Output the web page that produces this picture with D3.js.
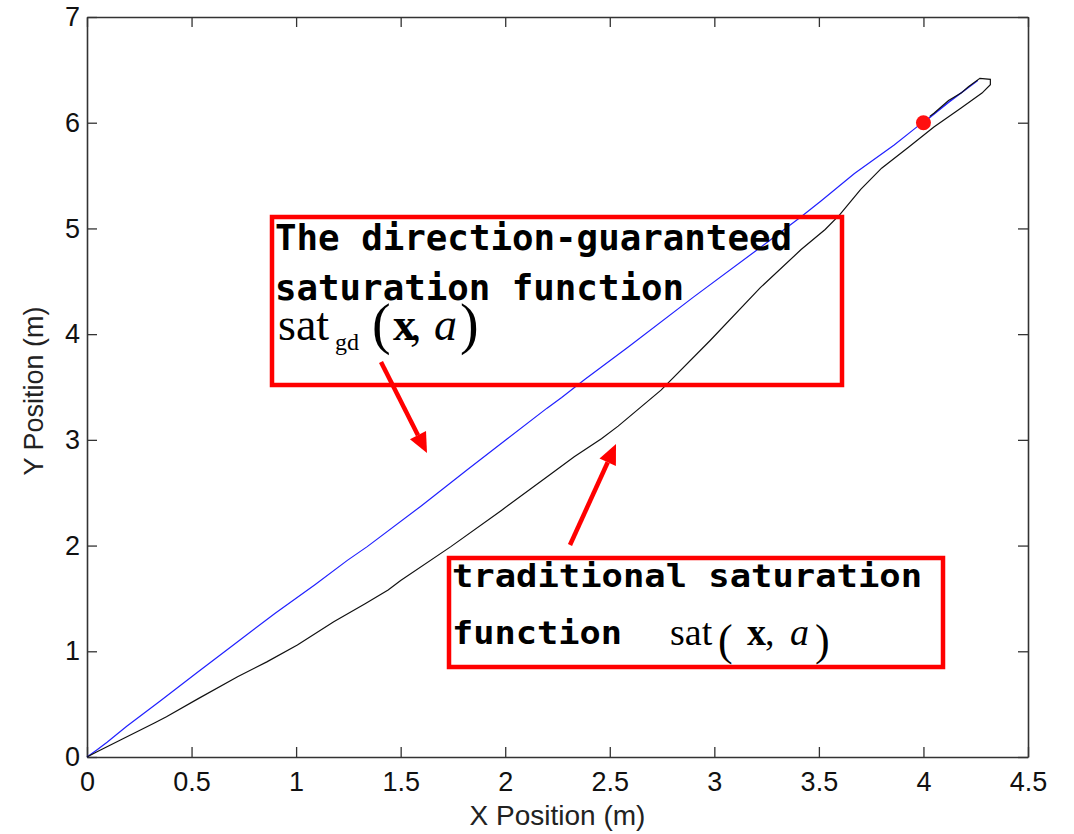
<!DOCTYPE html>
<html>
<head>
<meta charset="utf-8">
<script src="https://cdn.jsdelivr.net/npm/d3@7"></script>
<style>
  html, body { margin: 0; padding: 0; background: #fff; }
  svg { display: block; }
</style>
</head>
<body>
<svg id="chart" width="1074" height="834"></svg>
<script>
// Trajectory with the direction-guaranteed saturation function (blue)
const gdX = [0, 0.05, 0.096, 0.19, 0.35, 0.527, 0.70, 0.90, 1.09, 1.245, 1.34, 1.595, 1.82, 2.01, 2.20, 2.27, 2.38, 2.59, 2.90, 3.22, 3.415, 3.51, 3.67, 3.86, 3.975, 4.0, 4.12, 4.26, 4.13, 4.01];
const gdY = [0, 0.07, 0.14, 0.29, 0.53, 0.80, 1.06, 1.36, 1.63, 1.86, 1.99, 2.37, 2.72, 3.01, 3.30, 3.40, 3.57, 3.88, 4.35, 4.82, 5.11, 5.26, 5.52, 5.79, 5.97, 6.0, 6.19, 6.40, 6.21, 6.02];

// Trajectory with the traditional saturation function (black)
const tradX = [0, 0.048, 0.16, 0.32, 0.38, 0.53, 0.72, 0.86, 1.006, 1.18, 1.33, 1.44, 1.50, 1.74, 1.98, 2.22, 2.33, 2.46, 2.54, 2.745, 2.98, 3.22, 3.415, 3.53, 3.60, 3.70, 3.80, 3.93, 4.05, 4.18, 4.28, 4.32, 4.32, 4.27, 4.215, 4.18, 4.12, 4.05, 4.03];
const tradY = [0, 0.05, 0.16, 0.32, 0.38, 0.55, 0.76, 0.90, 1.06, 1.28, 1.45, 1.58, 1.67, 1.99, 2.33, 2.68, 2.84, 3.01, 3.13, 3.47, 3.94, 4.44, 4.80, 4.99, 5.13, 5.37, 5.57, 5.77, 5.96, 6.14, 6.28, 6.36, 6.41, 6.42, 6.34, 6.28, 6.21, 6.09, 6.06];

// Goal position
const target = [4, 6];

// Axis ticks and labels
const xTicks = [0, 0.5, 1, 1.5, 2, 2.5, 3, 3.5, 4, 4.5];
const xTickLabels = ["0", "0.5", "1", "1.5", "2", "2.5", "3", "3.5", "4", "4.5"];
const yTicks = [0, 1, 2, 3, 4, 5, 6, 7];
const yTickLabels = ["0", "1", "2", "3", "4", "5", "6", "7"];
const xTitle = "X Position (m)";
const yTitle = "Y Position (m)";

const svg = d3.select("#chart");
const box = { left: 87, right: 1028, top: 17, bottom: 757 };

const x = d3.scaleLinear().domain([0, 4.5]).range([box.left, box.right]);
const y = d3.scaleLinear().domain([0, 7]).range([box.bottom, box.top]);

const axisColor = "#333";
const tickFont = "'Liberation Sans', Arial, sans-serif";

function styleAxis(g) {
  g.selectAll("path.domain").attr("stroke", axisColor).attr("stroke-width", 1.6);
  g.selectAll(".tick line").attr("stroke", axisColor).attr("stroke-width", 1.3);
  g.selectAll(".tick text").attr("fill", "#111").style("font-family", tickFont).style("font-size", "27px");
}

// bottom axis with labels, ticks pointing inward
svg.append("g")
  .attr("transform", `translate(0,${box.bottom})`)
  .call(d3.axisBottom(x).tickValues(xTicks).tickFormat((d, i) => xTickLabels[i])
    .tickSizeInner(-10).tickSizeOuter(0).tickPadding(15))
  .call(styleAxis)
  .call(g => g.selectAll(".tick text").attr("y", 15).attr("dy", "0.716em"));

// top axis (ticks only)
svg.append("g")
  .attr("transform", `translate(0,${box.top})`)
  .call(d3.axisTop(x).tickValues(xTicks).tickFormat("").tickSizeInner(-10).tickSizeOuter(0))
  .call(styleAxis);

// left axis with labels
svg.append("g")
  .attr("transform", `translate(${box.left},0)`)
  .call(d3.axisLeft(y).tickValues(yTicks).tickFormat((d, i) => yTickLabels[i])
    .tickSizeInner(-10).tickSizeOuter(0).tickPadding(7))
  .call(styleAxis);

// right axis (ticks only)
svg.append("g")
  .attr("transform", `translate(${box.right},0)`)
  .call(d3.axisRight(y).tickValues(yTicks).tickFormat("").tickSizeInner(-10).tickSizeOuter(0))
  .call(styleAxis);

// axis titles
svg.append("text")
  .attr("x", (box.left + box.right) / 2).attr("y", 825)
  .attr("text-anchor", "middle")
  .style("font-family", tickFont).style("font-size", "28px").attr("fill", "#222")
  .text(xTitle);

svg.append("text")
  .attr("transform", `translate(43,${(box.top + box.bottom) / 2 + 4}) rotate(-90)`)
  .attr("text-anchor", "middle")
  .style("font-family", tickFont).style("font-size", "27px").attr("fill", "#222")
  .text(yTitle);

// trajectories
const line = d3.line().x(d => x(d[0])).y(d => y(d[1]));
const gdPts = gdX.map((v, i) => [v, gdY[i]]);
const tradPts = tradX.map((v, i) => [v, tradY[i]]);

svg.append("path").datum(gdPts)
  .attr("d", line).attr("fill", "none").attr("stroke", "#2020ff").attr("stroke-width", 1.2);
svg.append("path").datum(tradPts)
  .attr("d", line).attr("fill", "none").attr("stroke", "#111").attr("stroke-width", 1.2);

// goal marker
svg.append("circle")
  .attr("cx", x(target[0])).attr("cy", y(target[1])).attr("r", 7.5)
  .attr("fill", "#ff1010");

// annotations
const red = "#ff0000";
const monoFont = "'DejaVu Sans Mono', 'Liberation Mono', monospace";
const serif = "'Liberation Serif', 'Times New Roman', serif";

function arrow(x1, y1, x2, y2) {
  const ang = Math.atan2(y2 - y1, x2 - x1);
  const hl = 20, hw = 9;
  const bx = x2 - hl * Math.cos(ang), by = y2 - hl * Math.sin(ang);
  svg.append("line").attr("x1", x1).attr("y1", y1).attr("x2", bx).attr("y2", by)
    .attr("stroke", red).attr("stroke-width", 4.5);
  const px = -Math.sin(ang) * hw, py = Math.cos(ang) * hw;
  svg.append("polygon")
    .attr("points", `${x2},${y2} ${bx + px},${by + py} ${bx - px},${by - py}`)
    .attr("fill", red);
}

function mono(txt, x0, y0, size, len) {
  svg.append("text").attr("x", x0).attr("y", y0)
    .attr("textLength", len).attr("lengthAdjust", "spacingAndGlyphs")
    .style("font-family", monoFont).style("font-weight", "bold").style("font-size", size + "px")
    .attr("fill", "#000").text(txt);
}

// one formula as a single text element; each part positioned by its own tspan
function formula(parts) {
  const t = svg.append("text").style("font-family", serif).attr("fill", "#000");
  parts.forEach(p => {
    t.append("tspan").attr("x", p.x).attr("y", p.y)
      .style("font-size", p.size + "px")
      .style("font-weight", p.bold ? "bold" : "normal")
      .style("font-style", p.italic ? "italic" : "normal")
      .text(p.t);
  });
}

// box 1: direction-guaranteed saturation
svg.append("rect").attr("x", 272).attr("y", 217).attr("width", 570).attr("height", 168)
  .attr("fill", "none").attr("stroke", red).attr("stroke-width", 4.5);
mono("The direction-guaranteed", 275, 250, 36, 517);
mono("saturation function", 275, 300, 36, 409);
formula([
  { t: "sat", x: 278, y: 340, size: 46 },
  { t: "gd", x: 335, y: 350, size: 24 },
  { t: "(", x: 372, y: 343, size: 56 },
  { t: "x", x: 393, y: 340, size: 46, bold: true },
  { t: ",", x: 410, y: 340, size: 46 },
  { t: "a", x: 434, y: 340, size: 46, italic: true },
  { t: ")", x: 460, y: 343, size: 56 }
]);
arrow(381, 362, 427, 453);

// box 2: traditional saturation
svg.append("rect").attr("x", 449).attr("y", 558).attr("width", 494).attr("height", 109)
  .attr("fill", "none").attr("stroke", red).attr("stroke-width", 4.5);
mono("traditional saturation", 452, 587, 32, 470);
mono("function", 452, 644, 32, 170);
formula([
  { t: "sat", x: 670, y: 645, size: 38 },
  { t: "(", x: 718, y: 655, size: 44 },
  { t: "x", x: 747, y: 645, size: 38, bold: true },
  { t: ",", x: 765, y: 645, size: 38 },
  { t: "a", x: 790, y: 645, size: 38, italic: true },
  { t: ")", x: 815, y: 655, size: 44 }
]);
arrow(570, 545, 616, 444);
</script>
</body>
</html>
